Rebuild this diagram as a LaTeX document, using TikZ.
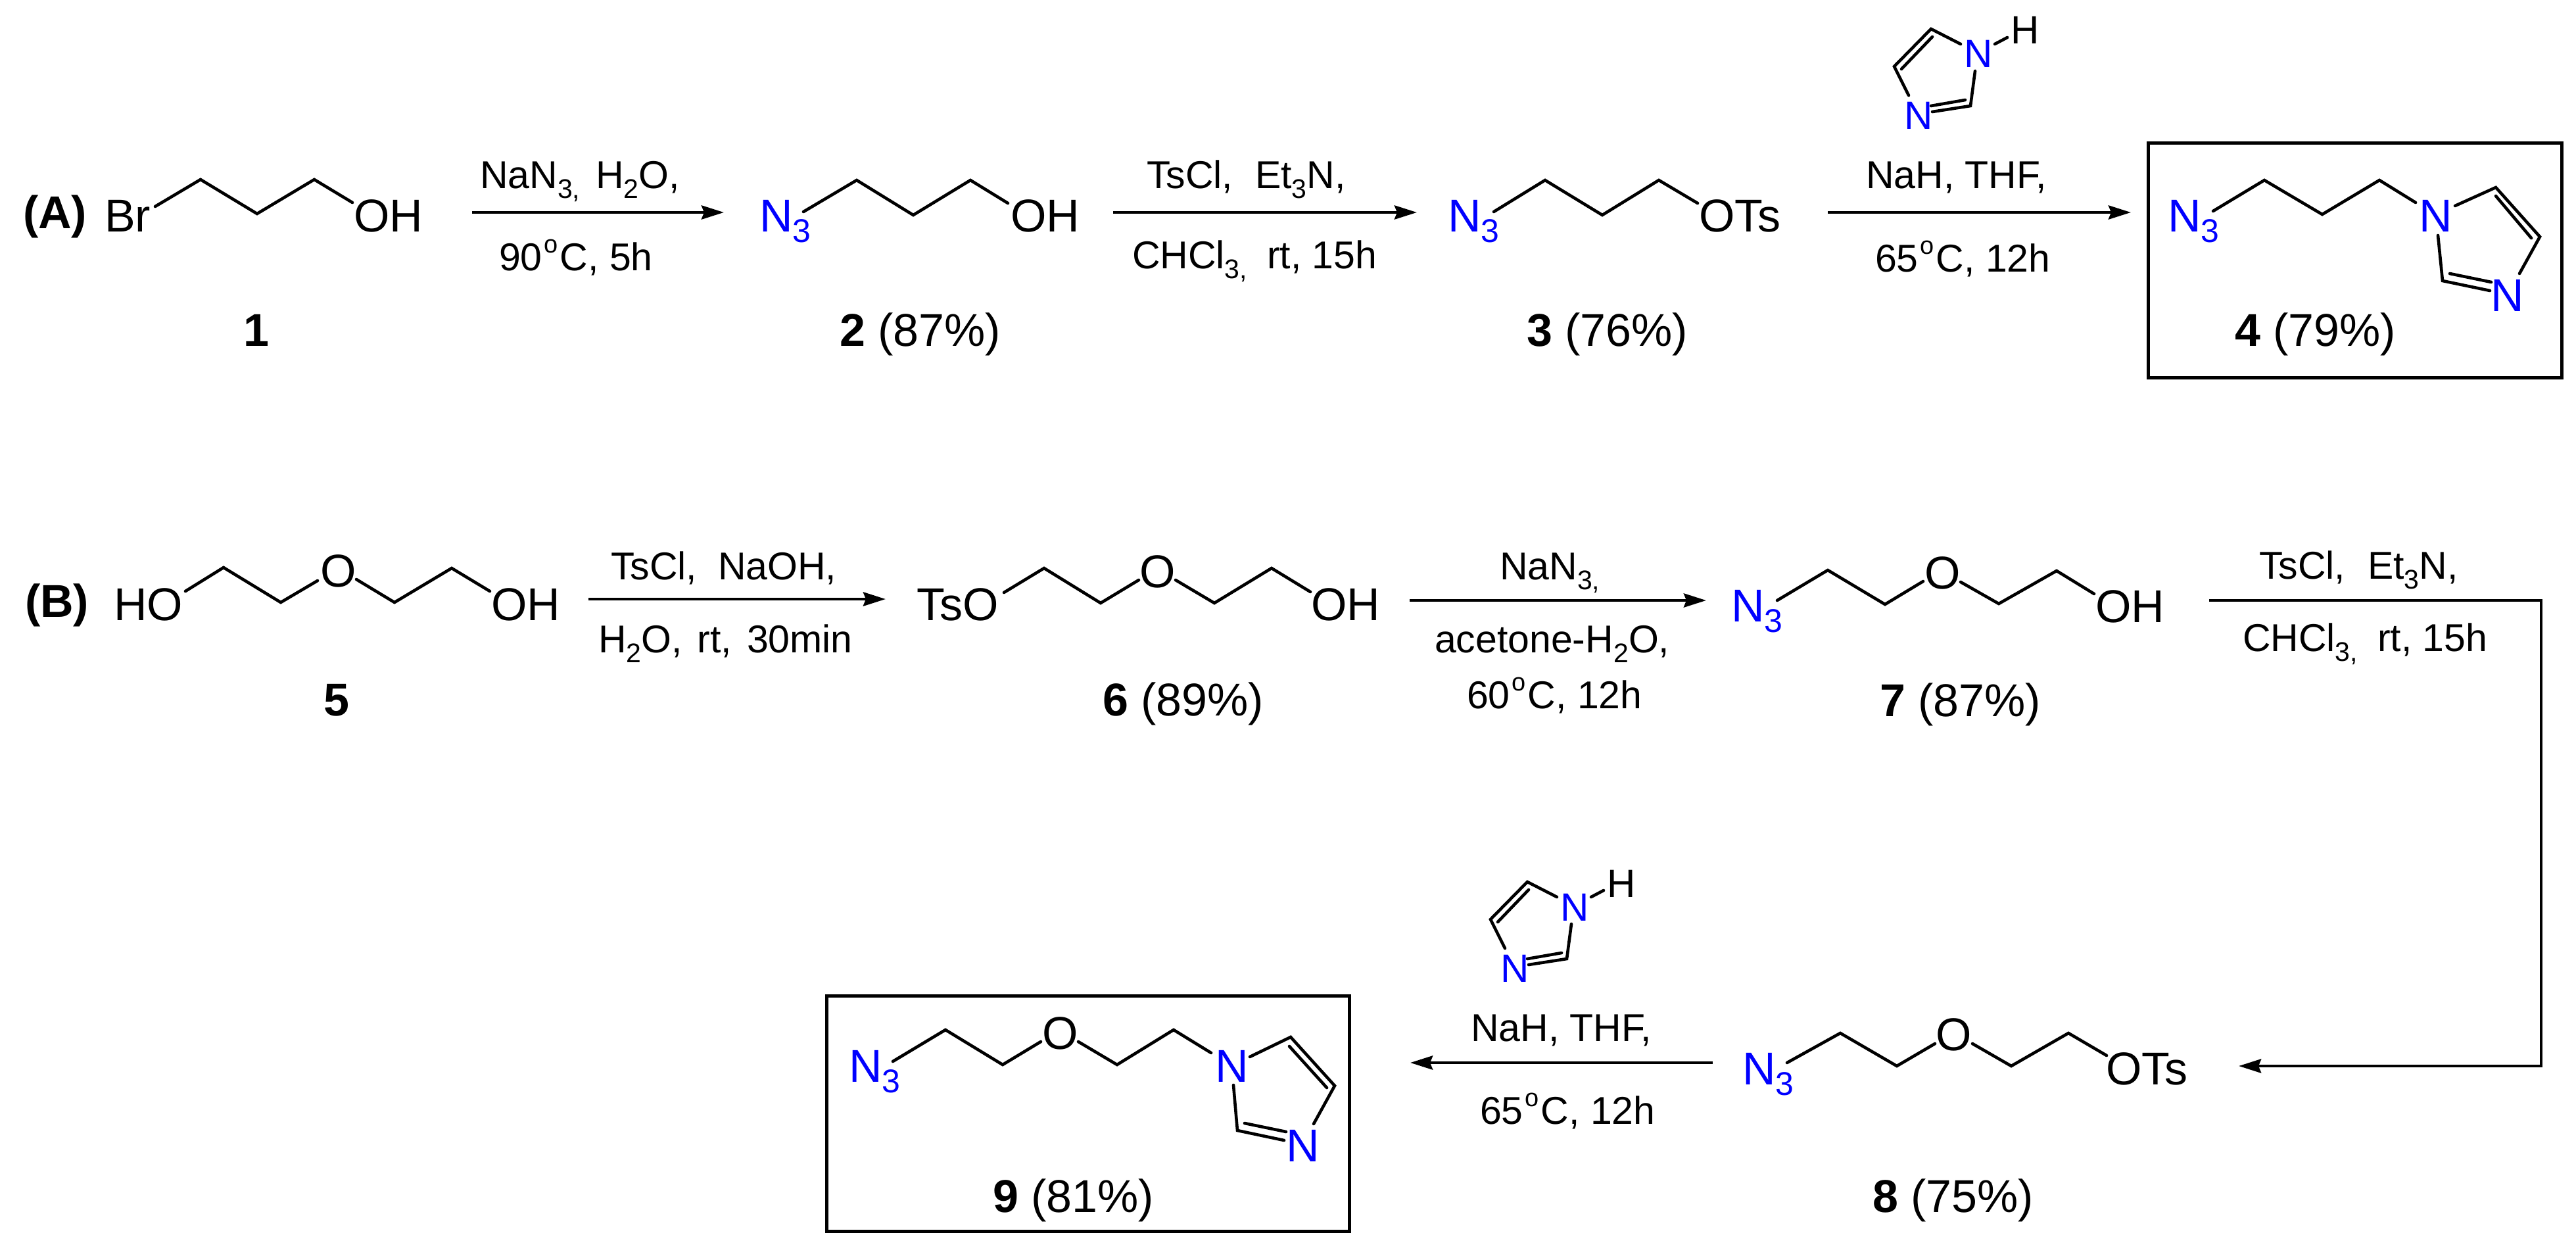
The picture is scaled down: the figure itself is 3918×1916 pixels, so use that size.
\documentclass[tikz,border=0pt]{standalone}
\usepackage{fontspec}
\setmainfont{Liberation Sans}
\usetikzlibrary{arrows.meta}
\definecolor{azide}{RGB}{0,0,255}
\newcommand\subr[1]{\raisebox{-15pt}{\fontsize{41}{41}\selectfont #1}}
\newcommand\subs[1]{\raisebox{-16pt}{\fontsize{50}{50}\selectfont #1}}
\newcommand\degr{\hspace{3pt}\raisebox{27pt}{\fontsize{38}{38}\selectfont o}\hspace{3pt}}
\tikzset{
  txt/.style={inner sep=0pt,outer sep=0pt,anchor=base west},
  atom/.style={txt,font=\fontsize{70}{80}\selectfont},
  natom/.style={atom,text=azide},
  reagent/.style={txt,font=\fontsize{59}{70}\selectfont},
  ratom/.style={txt,font=\fontsize{60}{70}\selectfont},
  rnitro/.style={ratom,text=azide},
  bond/.style={draw=black,line width=4.6pt,line join=miter,line cap=round},
  rxn/.style={draw=black,line width=4.7pt,-{Stealth[length=34pt,width=21pt,inset=4pt]}},
  framebox/.style={draw=black,line width=5pt,inner sep=0pt,outer sep=0pt,anchor=north west},
}
% imidazole reagent: #1 = name prefix
\newcommand\imidazole[1]{%
  \node[rnitro] (#1nh) at (2987,103) {N};
  \node[rnitro] (#1nb) at (2896,196) {N};
  \node[ratom] (#1h) at (3058,67) {H};
  \draw[bond] (2982,67) -- (2937,44) -- (2881,101) -- (2903,145);
  \draw[bond] (3004,108) -- (2997,161) -- (2939,170);
  \draw[bond] (2989,152) -- (2937,161);
  \draw[bond] (2939,56) -- (2892,105);
  \draw[bond] (3034,67) -- (3053,57);
}
\begin{document}
\begin{tikzpicture}[x=1pt,y=-1pt]
\useasboundingbox (0,0) rectangle (3918,1916);
\fill[white] (0,0) rectangle (3918,1916);

% ---------- Scheme A
\node[atom] (tagA) at (35,347) {\bfseries (A)};
\node[atom] (br1) at (159,352) {Br};
\draw[bond] (236,314) -- (305,273) -- (391,325) -- (478,273) -- (536,308);
\node[atom] (oh1) at (538,352) {OH};
\node[atom] (lab1) at (370,526) {\bfseries 1};

\node[reagent] (ra1) at (730,286) {NaN\subr{3,}\hspace{24pt}H\subr{2}O,};
\node[reagent] (rb1) at (759,411) {90\degr C, 5h};
\coordinate (a1s) at (718,323);
\coordinate (a1e) at (1101,323);
\draw[rxn] (a1s) -- (a1e);

\node[natom] (n2) at (1155,352) {N\subs{3}};
\draw[bond] (1222,322) -- (1303,274) -- (1389,327) -- (1476,274) -- (1533,309);
\node[atom] (oh2) at (1537,352) {OH};
\node[atom] (lab2) at (1277,526) {\textbf{2} (87\%)};

\node[reagent] (ra2) at (1744,286) {TsCl,\hspace{34pt}Et\subr{3}N,};
\node[reagent] (rb2) at (1722,408) {CHCl\subr{3,}\hspace{30pt}rt, 15h};
\coordinate (a2s) at (1693,323);
\coordinate (a2e) at (2155,323);
\draw[rxn] (a2s) -- (a2e);

\node[natom] (n3) at (2202,352) {N\subs{3}};
\draw[bond] (2272,322) -- (2350,274) -- (2437,327) -- (2523,274) -- (2582,309);
\node[atom] (ots3) at (2584,352) {OTs};
\node[atom] (lab3) at (2322,526) {\textbf{3} (76\%)};

\imidazole{u}
\node[reagent] (ra3) at (2838,286) {NaH, THF,};
\node[reagent] (rb3) at (2852,413) {65\degr C, 12h};
\coordinate (a3s) at (2780,323);
\coordinate (a3e) at (3241,323);
\draw[rxn] (a3s) -- (a3e);

\node[framebox,draw,minimum width=629pt,minimum height=357pt] (box4) at (3267,217) {};
\node[natom] (n4) at (3297,352) {N\subs{3}};
\draw[bond] (3366,321) -- (3444,274) -- (3532,326) -- (3619,274) -- (3674,308);
\node[natom] (n4a) at (3679,352) {N};
\node[natom] (n4b) at (3788,473) {N};
\draw[bond] (3734,313) -- (3796,285) -- (3863,360) -- (3832,416);
\draw[bond] (3708,358) -- (3715,427) -- (3787,442);
\draw[bond] (3726,416) -- (3789,429);
\draw[bond] (3796,298) -- (3850,362);
\node[atom] (lab4) at (3399,526) {\textbf{4} (79\%)};

% ---------- Scheme B
\node[atom] (tagB) at (38,938) {\bfseries (B)};
\node[atom] (ho5) at (173,943) {HO};
\draw[bond] (282,899) -- (340,863) -- (427,916) -- (483,883);
\node[atom] (o5) at (487,892) {O};
\draw[bond] (542,881) -- (600,916) -- (687,864) -- (745,899);
\node[atom] (oh5) at (747,943) {OH};
\node[atom] (lab5) at (492,1088) {\bfseries 5};

\node[reagent] (ra4) at (929,881) {TsCl,\hspace{32pt}NaOH,};
\node[reagent] (rb4) at (910,992) {H\subr{2}O,\hspace{23pt}rt,\hspace{23pt}30min};
\coordinate (a4s) at (895,911);
\coordinate (a4e) at (1347,911);
\draw[rxn] (a4s) -- (a4e);

\node[atom] (tso6) at (1394,943) {TsO};
\draw[bond] (1527,901) -- (1588,864) -- (1674,917) -- (1732,882);
\node[atom] (o6) at (1733,893) {O};
\draw[bond] (1788,882) -- (1847,917) -- (1934,864) -- (1993,900);
\node[atom] (oh6) at (1994,943) {OH};
\node[atom] (lab6) at (1677,1088) {\textbf{6} (89\%)};

\node[reagent] (ra5) at (2281,881) {NaN\subr{3,}};
\node[reagent] (rb5) at (2182,992) {acetone-H\subr{2}O,};
\node[reagent] (rc5) at (2231,1077) {60\degr C, 12h};
\coordinate (a5s) at (2144,913);
\coordinate (a5e) at (2595,913);
\draw[rxn] (a5s) -- (a5e);

\node[natom] (n7) at (2633,945) {N\subs{3}};
\draw[bond] (2703,913) -- (2780,867) -- (2867,919) -- (2925,884);
\node[atom] (o7) at (2927,895) {O};
\draw[bond] (2982,885) -- (3040,918) -- (3128,868) -- (3185,903);
\node[atom] (oh7) at (3187,946) {OH};
\node[atom] (lab7) at (2859,1089) {\textbf{7} (87\%)};

\node[reagent] (ra6) at (3436,880) {TsCl,\hspace{34pt}Et\subr{3}N,};
\node[reagent] (rb6) at (3411,990) {CHCl\subr{3,}\hspace{30pt}rt, 15h};
\coordinate (a6s) at (3360,913);
\coordinate (a6c) at (3865,913);
\coordinate (a6d) at (3865,1621);
\coordinate (a6e) at (3405,1621);
\draw[rxn] (a6s) -- (a6c) -- (a6d) -- (a6e);

\node[natom] (n8) at (2650,1649) {N\subs{3}};
\draw[bond] (2718,1616) -- (2799,1571) -- (2885,1621) -- (2943,1587);
\node[atom] (o8) at (2944,1597) {O};
\draw[bond] (3000,1587) -- (3059,1621) -- (3146,1571) -- (3204,1605);
\node[atom] (ots8) at (3203,1649) {OTs};
\node[atom] (lab8) at (2848,1843) {\textbf{8} (75\%)};

\begin{scope}[shift={(-614,1297)}]
\imidazole{l}
\end{scope}
\node[reagent] (ra7) at (2237,1583) {NaH, THF,};
\node[reagent] (rb7) at (2251,1709) {65\degr C, 12h};
\coordinate (a7s) at (2605,1616);
\coordinate (a7e) at (2145,1616);
\draw[rxn] (a7s) -- (a7e);

\node[framebox,draw,minimum width=795pt,minimum height=358pt] (box9) at (1257,1514) {};
\node[natom] (n9) at (1291,1645) {N\subs{3}};
\draw[bond] (1358,1614) -- (1438,1566) -- (1525,1619) -- (1583,1584);
\node[atom] (o9) at (1585,1595) {O};
\draw[bond] (1640,1584) -- (1699,1619) -- (1785,1566) -- (1842,1601);
\node[natom] (n9a) at (1848,1645) {N};
\node[natom] (n9b) at (1956,1766) {N};
\draw[bond] (1901,1607) -- (1963,1577) -- (2030,1651) -- (1998,1709);
\draw[bond] (1876,1650) -- (1882,1719) -- (1953,1734);
\draw[bond] (1893,1708) -- (1956,1721);
\draw[bond] (1961,1591) -- (2018,1654);
\node[atom] (lab9) at (1510,1843) {\textbf{9} (81\%)};
\end{tikzpicture}
\end{document}
